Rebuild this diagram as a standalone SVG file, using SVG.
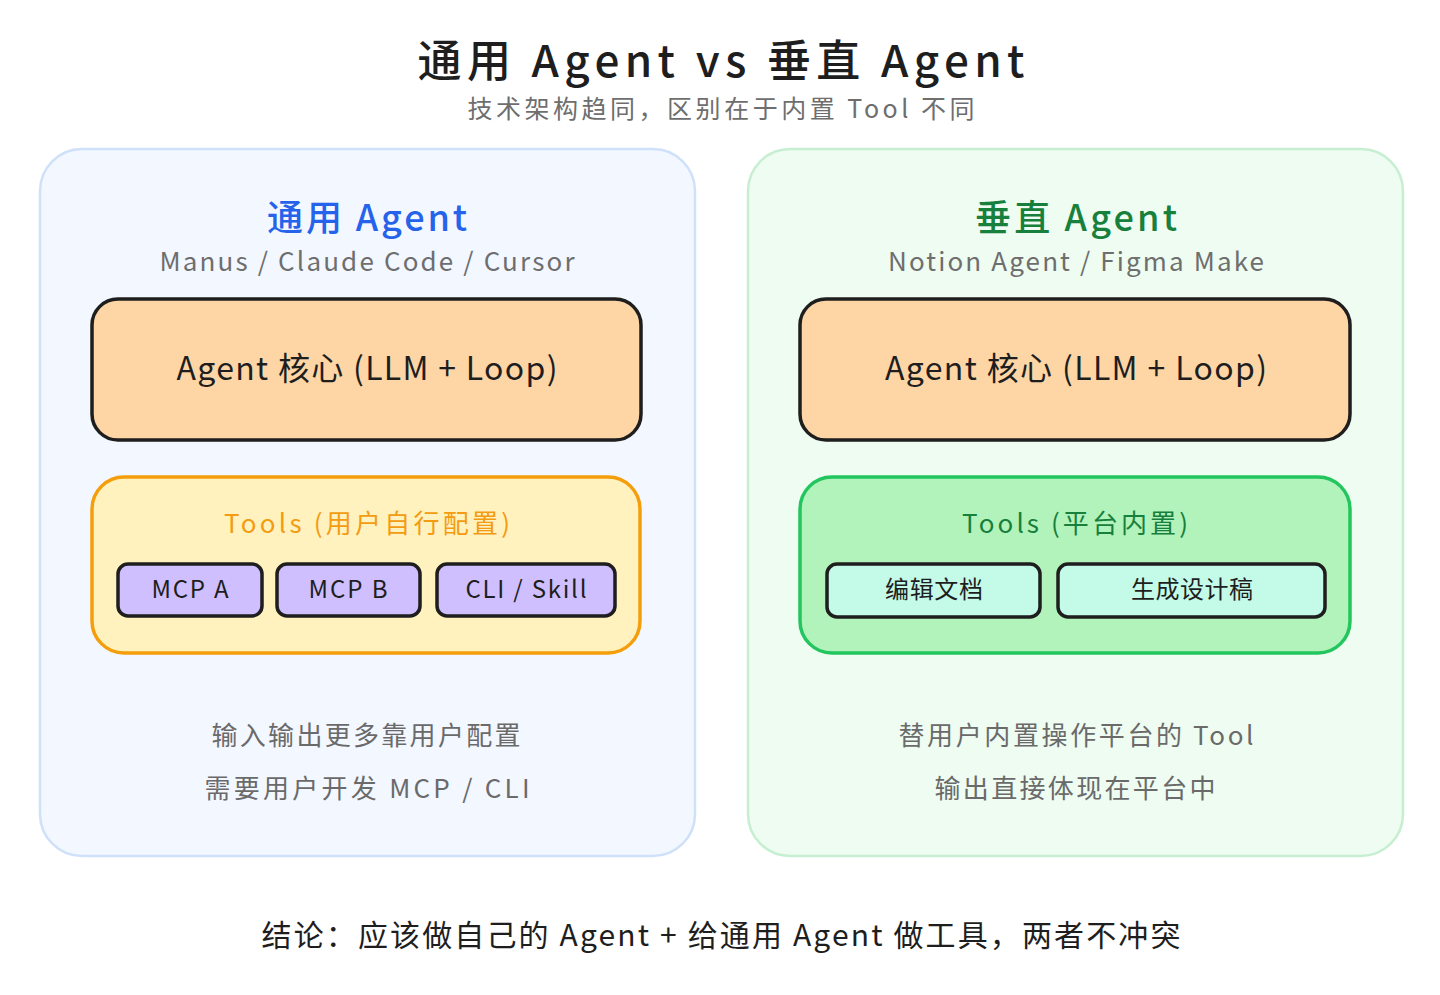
<svg xmlns="http://www.w3.org/2000/svg" width="1440" height="995" viewBox="0 0 1440 995">
<style>
text{font-family:"Noto Sans CJK SC","Liberation Sans",sans-serif;text-anchor:middle}
.title{font-size:44px;fill:#1e1e1e;font-weight:500}
.sub{font-size:25px;fill:#6e6e6e}
.head{font-size:36px;font-weight:500}
.gray{font-size:26px;fill:#6e6e6e}
.core{fill:#fed6a6;stroke:#1e1e1e;stroke-width:3.5}
.coret{font-size:32px;fill:#1e1e1e}
.chip{stroke:#1e1e1e;stroke-width:3.5}
.chipt{font-size:24px;fill:#1e1e1e}
.note{font-size:26px;fill:#6a6a6a}
.concl{font-size:30px;fill:#1e1e1e}
</style>
<rect width="1440" height="995" fill="#ffffff"/>
<g id="title">
<text class="title" x="721" y="77" textLength="607">通用 Agent vs 垂直 Agent</text>
<text class="sub" x="721" y="118" textLength="507">技术架构趋同，区别在于内置 Tool 不同</text>
</g>
<g id="panel-general">
<rect x="40" y="149" width="655" height="707" rx="42" fill="#f3f7ff" stroke="#cfe1f8" stroke-width="2.5"/>
<text class="head" x="367" y="231" fill="#2563eb" textLength="200">通用 Agent</text>
<text class="gray" x="367" y="271" textLength="415">Manus / Claude Code / Cursor</text>
</g>
<g id="core-general">
<rect class="core" x="92" y="299" width="549" height="141" rx="26"/>
<text class="coret" x="367" y="380" textLength="381">Agent 核心 (LLM + Loop)</text>
</g>
<g id="tools-general">
<rect x="92" y="477" width="548" height="176" rx="32" fill="#fff2bf" stroke="#f59e0b" stroke-width="3.5"/>
<text x="367" y="533" font-size="26" fill="#f39c12" textLength="286">Tools (用户自行配置)</text>
</g>
<g id="mcp-a">
<rect class="chip" x="118" y="564" width="144" height="52" rx="10" fill="#d0bfff"/>
<text class="chipt" x="190" y="598" textLength="77">MCP A</text>
</g>
<g id="mcp-b">
<rect class="chip" x="277" y="564" width="143" height="52" rx="10" fill="#d0bfff"/>
<text class="chipt" x="348" y="598" textLength="79">MCP B</text>
</g>
<g id="cli-skill">
<rect class="chip" x="437" y="564" width="178" height="52" rx="10" fill="#d0bfff"/>
<text class="chipt" x="526" y="598" textLength="121">CLI / Skill</text>
</g>
<g id="notes-general">
<text class="note" x="366" y="745" textLength="309">输入输出更多靠用户配置</text>
<text class="note" x="367" y="798" textLength="325">需要用户开发 MCP / CLI</text>
</g>
<g id="panel-vertical">
<rect x="748" y="149" width="655" height="707" rx="42" fill="#eefcf1" stroke="#c6efd2" stroke-width="2.5"/>
<text class="head" x="1076" y="231" fill="#16803c" textLength="202">垂直 Agent</text>
<text class="gray" x="1076" y="271" textLength="376">Notion Agent / Figma Make</text>
</g>
<g id="core-vertical">
<rect class="core" x="800" y="299" width="550" height="141" rx="26"/>
<text class="coret" x="1076" y="380" textLength="382">Agent 核心 (LLM + Loop)</text>
</g>
<g id="tools-vertical">
<rect x="800" y="477" width="550" height="176" rx="32" fill="#b2f2bb" stroke="#22c55e" stroke-width="3.5"/>
<text x="1075" y="533" font-size="26" fill="#16803c" textLength="226">Tools (平台内置)</text>
</g>
<g id="edit-doc">
<rect class="chip" x="827" y="564" width="213" height="53" rx="10" fill="#c3fae8"/>
<text class="chipt" x="934" y="598" textLength="98">编辑文档</text>
</g>
<g id="gen-design">
<rect class="chip" x="1058" y="564" width="267" height="53" rx="10" fill="#c3fae8"/>
<text class="chipt" x="1192" y="598" textLength="122">生成设计稿</text>
</g>
<g id="notes-vertical">
<text class="note" x="1076" y="745" textLength="355">替用户内置操作平台的 Tool</text>
<text class="note" x="1075" y="798" textLength="281">输出直接体现在平台中</text>
</g>
<g id="conclusion">
<text class="concl" x="721" y="946" textLength="919">结论：应该做自己的 Agent + 给通用 Agent 做工具，两者不冲突</text>
</g>
<g id="connectors"></g>
</svg>
